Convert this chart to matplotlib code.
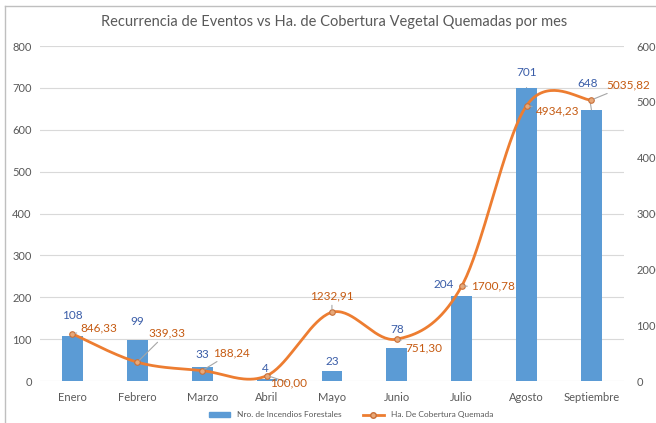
import matplotlib.pyplot as plt
from matplotlib.lines import Line2D
from matplotlib.patches import Patch
import numpy as np

plt.rcParams['font.family'] = ['Lato', 'DejaVu Sans']

meses = ['Enero', 'Febrero', 'Marzo', 'Abril', 'Mayo', 'Junio', 'Julio', 'Agosto', 'Septiembre']
incendios = [108, 99, 33, 4, 23, 78, 204, 701, 648]
hectareas = [846.33, 339.33, 188.24, 100.00, 1232.91, 751.30, 1700.78, 4934.23, 5035.82]

# label offsets in points (dx, dy)
off_barras = [(0, 15), (0, 13), (0, 9), (-1, 8), (0, 7), (0, 14), (-13, 8), (0, 11), (-3, 19)]
off_linea = [(6, 4), (8, 21), (8, 13), (2, -5), (0, 12), (6, -6), (7, 0), (7, -4), (11, 11)]

azul = '#5B9BD5'
naranja = '#ED7D31'
txt_azul = '#3A5DA8'
txt_nar = '#C55A11'
gris = '#595959'

fig = plt.figure(figsize=(6.56, 4.23), dpi=100)
ax = fig.add_axes([0.061, 0.099, 0.890, 0.792])
ax2 = ax.twinx()

x = np.arange(len(meses))
ax.bar(x, incendios, width=0.32, color=azul, zorder=2)
ax.set_xlim(-0.5, len(meses) - 0.5)
ax.set_ylim(0, 800)
ax.set_yticks(range(0, 801, 100))
ax2.set_ylim(0, 6000)
ax2.set_yticks(range(0, 6001, 1000))
ax.set_xticks(x)
ax.set_xticklabels(meses)
ax.grid(axis='y', color='#D9D9D9', lw=0.8, zorder=0)
for a in (ax, ax2):
    for s in a.spines.values():
        s.set_visible(False)
    a.tick_params(length=0, labelsize=8, colors=gris, pad=6)
ax.tick_params(axis='x', pad=8)
ax2.tick_params(pad=9)


# smoothed line (bezier through points, computed in pixel-like units)
def suavizar(xs, ys, n=40):
    sx, sy = 65.0, 335.0 / 6000
    p = np.column_stack([np.asarray(xs) * sx, np.asarray(ys) * sy])
    out = []
    for i in range(len(p) - 1):
        p0 = p[max(i - 1, 0)]
        p1 = p[i]
        p2 = p[i + 1]
        p3 = p[min(i + 2, len(p) - 1)]
        c1 = p1 + (p2 - p0) / 6
        c2 = p2 - (p3 - p1) / 6
        t = np.linspace(0, 1, n)[:, None]
        seg = (1 - t) ** 3 * p1 + 3 * (1 - t) ** 2 * t * c1 + 3 * (1 - t) * t ** 2 * c2 + t ** 3 * p2
        out.append(seg)
    out = np.vstack(out)
    return out[:, 0] / sx, out[:, 1] / sy


cx, cy = suavizar(x, hectareas)
ax2.plot(cx, cy, color=naranja, lw=2, zorder=3)
ax2.plot(x, hectareas, 'o', ms=4, mfc='#E8A878', mec='#C8703A', mew=0.8, zorder=4)

for i, v in enumerate(incendios):
    dx, dy = off_barras[i]
    lider = i >= 7
    ax.annotate(str(v), (x[i], v), xytext=(dx, dy), textcoords='offset points',
                ha='center', va='center', fontsize=8.5, color=txt_azul, zorder=5,
                arrowprops=dict(arrowstyle='-', color='#A6A6A6', lw=0.8, shrinkA=5, shrinkB=0) if lider else None)

for i, v in enumerate(hectareas):
    dx, dy = off_linea[i]
    ha = 'center' if i == 4 else 'left'
    ax2.annotate(f'{v:.2f}'.replace('.', ','), (x[i], v), xytext=(dx, dy), textcoords='offset points',
                 ha=ha, va='center', fontsize=8.5, color=txt_nar, zorder=5,
                 arrowprops=dict(arrowstyle='-', color='#A6A6A6', lw=0.8, shrinkA=1, shrinkB=2))

fig.suptitle('Recurrencia de Eventos vs Ha. de Cobertura Vegetal Quemadas por mes',
             x=0.51, y=0.965, fontsize=10.5, color=gris)

handles = [Patch(color=azul),
           Line2D([0], [0], color=naranja, lw=2, marker='o', ms=4, mfc='#E8A878', mec='#C8703A')]
fig.legend(handles, ['Nro. de Incendios Forestales', 'Ha. De Cobertura Quemada'],
           loc='center', bbox_to_anchor=(0.535, 0.019), ncol=2, frameon=False,
           fontsize=6, labelcolor=gris, handlelength=2.6, handleheight=0.4, columnspacing=2.5)

# frame edges of the cropped chart
fig.add_artist(Line2D([0.008, 0.008], [0, 0.985], color='#BFBFBF', lw=1))
fig.add_artist(Line2D([0.008, 1], [0.985, 0.985], color='#BFBFBF', lw=1))

fig.savefig('out.png', dpi=100)
